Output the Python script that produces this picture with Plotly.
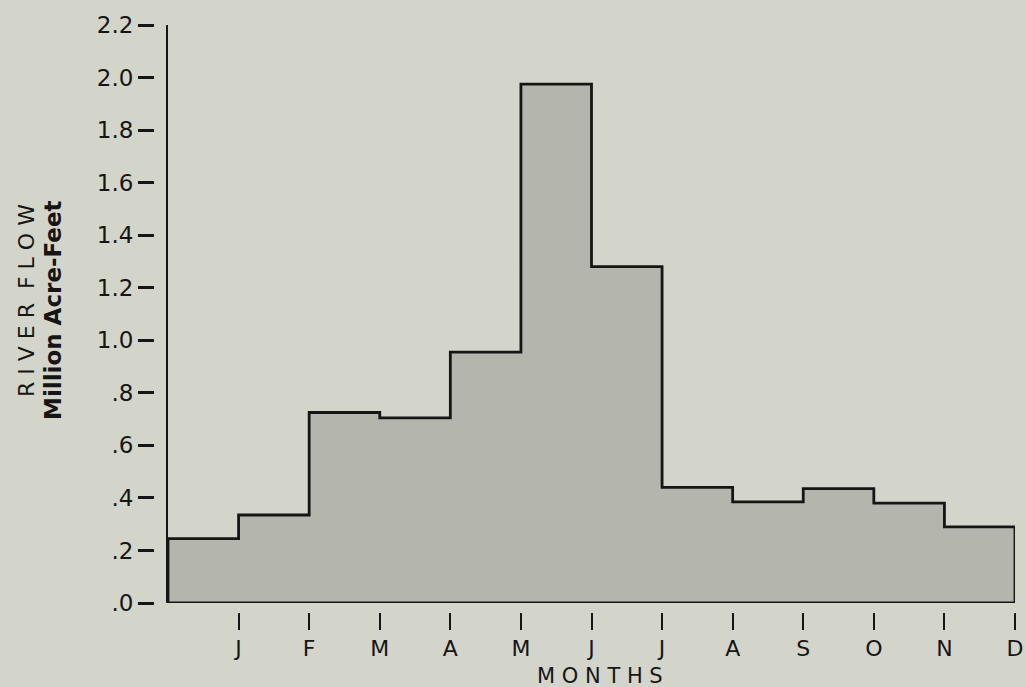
import plotly.graph_objects as go

# ---- data ----
months = ["J", "F", "M", "A", "M", "J", "J", "A", "S", "O", "N", "D"]
flow = [0.245, 0.335, 0.725, 0.705, 0.955, 1.975, 1.28, 0.44, 0.385, 0.435, 0.38, 0.29]
y_ticks = [0.0, 0.2, 0.4, 0.6, 0.8, 1.0, 1.2, 1.4, 1.6, 1.8, 2.0, 2.2]
y_tick_labels = [".0", ".2", ".4", ".6", ".8", "1.0", "1.2", "1.4", "1.6", "1.8", "2.0", "2.2"]

BG = "#d4d5ca"
FILL = "#b4b5ad"
INK = "#151515"
FONT = "DejaVu Sans"

n = len(flow)
# closed step outline: left edge, steps, right edge, bottom
xs = [0] + list(range(n)) + [n, n, 0]
ys = [0] + flow + [flow[-1], 0, 0]

W, H = 1026, 687
ml, mr, mt, mb = 0, 11, 25, 75
pw = W - ml - mr
ph = H - mt - mb
x0_px = 168          # left edge of plot
zero_px = 603        # y pixel of zero line
ydom0 = (H - mb - zero_px) / ph

fig = go.Figure()
fig.add_trace(go.Scatter(
    x=xs, y=ys, mode="lines", line=dict(shape="hv", color=INK, width=2.8),
    fill="toself", fillcolor=FILL, hoverinfo="skip", showlegend=False,
))
# invisible trace to activate the tick-only y axis
fig.add_trace(go.Scatter(
    x=[0, n], y=[y_ticks[0], y_ticks[-1]], mode="markers", marker=dict(opacity=0),
    yaxis="y2", hoverinfo="skip", showlegend=False,
))

fig.update_layout(
    width=W, height=H,
    margin=dict(l=ml, r=mr, t=mt, b=mb),
    paper_bgcolor=BG, plot_bgcolor=BG,
    font=dict(family=FONT, color=INK),
    xaxis=dict(
        domain=[x0_px / pw, 1], range=[0, n], anchor="free", position=0,
        showline=False, showgrid=False, zeroline=False,
        tickmode="array", tickvals=list(range(1, n + 1)), ticktext=months,
        ticks="outside", ticklen=17, tickwidth=2.4, tickcolor=INK,
        tickfont=dict(size=22, family=FONT, color=INK),
    ),
    yaxis=dict(
        domain=[ydom0, 1], range=[0, 2.2], anchor="x",
        showline=True, linecolor=INK, linewidth=2.2,
        showgrid=False, zeroline=False, showticklabels=False, ticks="",
    ),
    yaxis2=dict(
        overlaying="y", anchor="free", position=154 / pw, side="left",
        range=[0, 2.2], showline=False, showgrid=False, zeroline=False,
        tickmode="array", tickvals=y_ticks, ticktext=y_tick_labels,
        ticks="outside", ticklen=16, tickwidth=2.6, tickcolor=INK,
        tickfont=dict(size=23, family=FONT, color=INK),
    ),
    annotations=[
        dict(text="R\u00a0I\u00a0V\u00a0E\u00a0R\u00a0\u00a0F\u00a0L\u00a0O\u00a0W",
             xref="paper", yref="paper", x=26 / pw, y=(H - mb - 301) / ph,
             xanchor="center", yanchor="middle", textangle=-90, showarrow=False,
             font=dict(size=22, family=FONT, color=INK)),
        dict(text="<b>Million Acre-Feet</b>",
             xref="paper", yref="paper", x=53 / pw, y=(H - mb - 310) / ph,
             xanchor="center", yanchor="middle", textangle=-90, showarrow=False,
             font=dict(size=23, family=FONT, color=INK)),
        dict(text="M\u00a0O\u00a0N\u00a0T\u00a0H\u00a0S",
             xref="paper", yref="paper", x=600 / pw, y=(H - mb - 676) / ph,
             xanchor="center", yanchor="middle", showarrow=False,
             font=dict(size=21, family=FONT, color=INK)),
    ],
)

fig.write_html(
    "out.html",
    config={"displayModeBar": False},
    post_script=f"document.body.style.margin='0';document.body.style.background='{BG}';",
)
